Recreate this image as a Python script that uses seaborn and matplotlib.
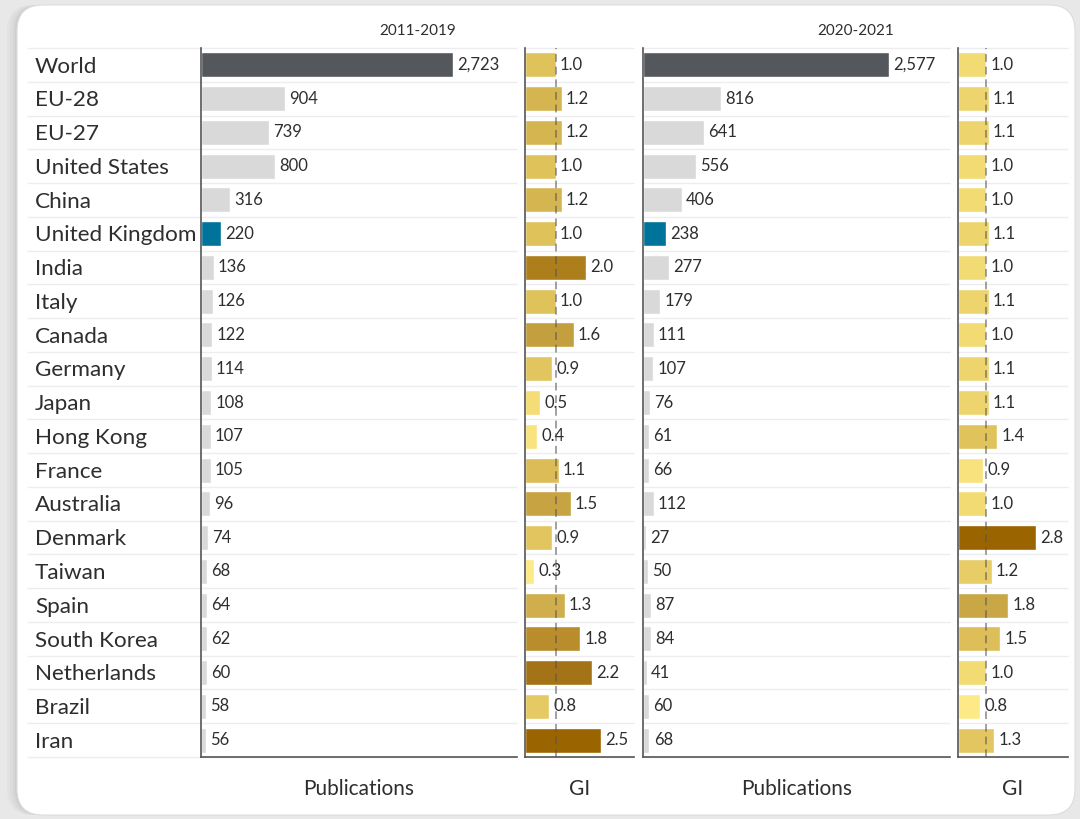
import matplotlib
matplotlib.use("Agg")
import matplotlib.pyplot as plt
from matplotlib.colors import LinearSegmentedColormap, Normalize
from matplotlib.patches import FancyBboxPatch
import seaborn as sns
import numpy as np

countries = ["World", "EU-28", "EU-27", "United States", "China", "United Kingdom",
             "India", "Italy", "Canada", "Germany", "Japan", "Hong Kong", "France",
             "Australia", "Denmark", "Taiwan", "Spain", "South Korea", "Netherlands",
             "Brazil", "Iran"]
pubs_2011 = [2723, 904, 739, 800, 316, 220, 136, 126, 122, 114, 108, 107, 105,
             96, 74, 68, 64, 62, 60, 58, 56]
gi_2011 = [1.0, 1.2, 1.2, 1.0, 1.2, 1.0, 2.0, 1.0, 1.6, 0.9, 0.5, 0.4, 1.1,
           1.5, 0.9, 0.3, 1.3, 1.8, 2.2, 0.8, 2.5]
pubs_2020 = [2577, 816, 641, 556, 406, 238, 277, 179, 111, 107, 76, 61, 66,
             112, 27, 50, 87, 84, 41, 60, 68]
gi_2020 = [1.0, 1.1, 1.1, 1.0, 1.0, 1.1, 1.0, 1.1, 1.0, 1.1, 1.1, 1.4, 0.9,
           1.0, 2.8, 1.2, 1.8, 1.5, 1.0, 0.8, 1.3]
periods = ["2011-2019", "2020-2021"]

sns.set_style("white")
plt.rcParams["font.family"] = ["Lato", "DejaVu Sans"]
TXT = "#2e2e2e"

gold = LinearSegmentedColormap.from_list("gold", [
    (0.0, "#fde985"), (0.1, "#f3db74"), (0.25, "#e3c660"), (0.33, "#dfc15a"),
    (0.5, "#caa745"), (0.6, "#c49e3c"), (0.68, "#b98c2c"), (0.77, "#ad7e1c"),
    (0.86, "#a47418"), (1.0, "#9a6400")])


def pub_colors():
    cols = []
    for c in countries:
        if c == "World":
            cols.append("#54575b")
        elif c == "United Kingdom":
            cols.append("#00739a")
        else:
            cols.append("#d9d9d9")
    return cols


def gi_colors(vals):
    norm = Normalize(min(vals), max(vals))
    return [gold(norm(v)) for v in vals]


def style_axes(ax, xmax, xlabel, grid_from=0.0):
    ax.set_facecolor("none")
    ax.set_xlim(0, xmax)
    ax.set_ylim(20.5, -0.5)
    ax.hlines(np.arange(-0.5, 21), grid_from, 1, transform=ax.get_yaxis_transform(),
              color="#ededed", lw=1, zorder=0, clip_on=False)
    for s in ["top", "right"]:
        ax.spines[s].set_visible(False)
    for s in ["left", "bottom"]:
        ax.spines[s].set_color("#555555")
        ax.spines[s].set_linewidth(1.2)
    ax.tick_params(left=False, bottom=False, labelleft=False, labelbottom=False)
    ax.set_ylabel("")
    ax.set_xlabel(xlabel, fontsize=15, color=TXT, labelpad=16)


def draw_panel(ax, vals, cols, fmt, fs):
    sns.barplot(x=vals, y=countries, hue=countries, palette=cols, legend=False,
                orient="h", width=0.74, saturation=1, ax=ax, zorder=2)
    for cont, v in zip(ax.containers, vals):
        ax.bar_label(cont, labels=[fmt(v)], padding=3, fontsize=fs, color=TXT)


fig = plt.figure(figsize=(10.8, 8.19), dpi=100)
fig.patch.set_facecolor("#e8e8e8")

# card background with a soft shadow on the left
bg = fig.add_axes([0, 0, 1, 1], zorder=-5)
bg.set_xlim(0, 1080)
bg.set_ylim(819, 0)
bg.axis("off")
for off, a in [(10, 0.08), (7, 0.10), (4, 0.12), (2, 0.15)]:
    bg.add_patch(FancyBboxPatch((17 - off, 5), 1058 + off, 810, boxstyle="round,pad=0,rounding_size=26",
                                fc="#a8a8a8", ec="none", alpha=a))
bg.add_patch(FancyBboxPatch((17, 5), 1058, 810, boxstyle="round,pad=0,rounding_size=26",
                            fc="white", ec="#dddddd", lw=0.8))

bottom, height = 1 - 757 / 819, 709 / 819
ax1 = fig.add_axes([201 / 1080, bottom, 316 / 1080, height])
ax2 = fig.add_axes([525 / 1080, bottom, 109 / 1080, height])
ax3 = fig.add_axes([643 / 1080, bottom, 307 / 1080, height])
ax4 = fig.add_axes([958 / 1080, bottom, 110 / 1080, height])

draw_panel(ax1, pubs_2011, pub_colors(), lambda v: f"{v:,}", 12)
draw_panel(ax2, gi_2011, gi_colors(gi_2011), lambda v: f"{v:.1f}", 12)
draw_panel(ax3, pubs_2020, pub_colors(), lambda v: f"{v:,}", 12)
draw_panel(ax4, gi_2020, gi_colors(gi_2020), lambda v: f"{v:.1f}", 12)

style_axes(ax1, 3415, "Publications", grid_from=-(201 - 27) / 316)
style_axes(ax2, 3.57, "GI")
style_axes(ax3, 3220, "Publications")
style_axes(ax4, 3.93, "GI")

for ax in [ax2, ax4]:
    ax.axvline(1.0, color="#555555", alpha=0.55, lw=1.4, ls=(0, (4, 2.5)), zorder=3)

for i, c in enumerate(countries):
    ax1.text(-(201 - 35) / 316, i + 0.05, c, transform=ax1.get_yaxis_transform(),
             ha="left", va="center", fontsize=16.2, color=TXT)

fig.text((201 + 634) / 2 / 1080, 1 - 31 / 819, periods[0], ha="center", va="center",
         fontsize=11, color=TXT)
fig.text((643 + 1068) / 2 / 1080, 1 - 31 / 819, periods[1], ha="center", va="center",
         fontsize=11, color=TXT)

fig.savefig("out.png", dpi=100, facecolor=fig.get_facecolor())
